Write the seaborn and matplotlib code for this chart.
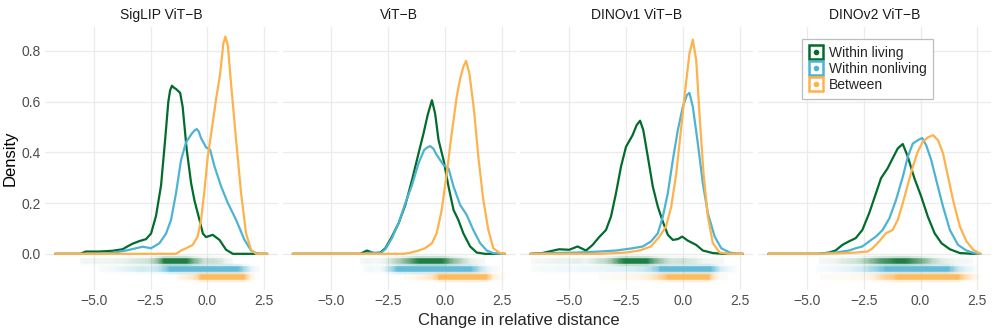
import numpy as np
import pandas as pd
import matplotlib
matplotlib.use("Agg")
import matplotlib.pyplot as plt
import seaborn as sns
from matplotlib.collections import LineCollection
from matplotlib.colors import to_rgba
from matplotlib.lines import Line2D
from matplotlib.legend_handler import HandlerTuple

# Панели и группы
panels = ["SigLIP ViT\u2212B", "ViT\u2212B", "DINOv1 ViT\u2212B", "DINOv2 ViT\u2212B"]
groups = ["Within living", "Within nonliving", "Between"]
colors = ["#006d2c", "#4eb3d3", "#feb24c"]

# Кривые плотности (x, density)
siglip_living_x = [-6.7, -5.6, -5.35, -4.76, -4.17, -3.73, -3.5, -3.29, -3.0, -2.7, -2.48, -2.26, -2.04, -1.86, -1.72, -1.64, -1.56, -1.47, -1.38, -1.2, -1.09, -0.91, -0.72, -0.57, -0.35, -0.2, -0.06, 0.23, 0.53, 0.82, 1.12, 2.63]
siglip_living_y = [0, 0, 0.009, 0.009, 0.012, 0.018, 0.03, 0.04, 0.05, 0.058, 0.08, 0.15, 0.27, 0.45, 0.6, 0.645, 0.663, 0.655, 0.65, 0.635, 0.58, 0.41, 0.28, 0.21, 0.134, 0.08, 0.066, 0.075, 0.055, 0.016, 0, 0]
siglip_nonliving_x = [-6.7, -4.76, -4.17, -3.58, -3.14, -2.85, -2.48, -2.11, -1.82, -1.6, -1.38, -1.16, -0.94, -0.68, -0.56, -0.47, -0.38, -0.28, -0.06, 0.12, 0.31, 0.6, 0.9, 1.26, 1.63, 1.92, 2.14, 2.3, 2.63]
siglip_nonliving_y = [0, 0, 0.004, 0.013, 0.022, 0.028, 0.022, 0.042, 0.08, 0.134, 0.24, 0.37, 0.44, 0.475, 0.487, 0.492, 0.482, 0.456, 0.42, 0.41, 0.345, 0.266, 0.2, 0.134, 0.055, 0.013, 0.003, 0, 0]
siglip_between_x = [-6.7, -1.38, -1.16, -0.94, -0.65, -0.43, -0.28, -0.13, 0.01, 0.23, 0.38, 0.56, 0.7, 0.79, 0.9, 1.04, 1.26, 1.48, 1.7, 1.92, 2.14, 2.63]
siglip_between_y = [0, 0, 0.013, 0.022, 0.035, 0.068, 0.134, 0.25, 0.38, 0.515, 0.61, 0.71, 0.83, 0.857, 0.82, 0.67, 0.45, 0.24, 0.08, 0.016, 0, 0]

vit_living_x = [-6.7, -3.73, -3.44, -3.14, -2.85, -2.63, -2.34, -2.05, -1.75, -1.46, -1.17, -0.95, -0.77, -0.58, -0.44, -0.29, -0.07, 0.15, 0.37, 0.58, 0.8, 1.1, 1.39, 1.75, 2.63]
vit_living_y = [0, 0, 0.013, 0.003, 0.005, 0.022, 0.068, 0.12, 0.193, 0.29, 0.396, 0.475, 0.547, 0.606, 0.553, 0.449, 0.37, 0.265, 0.173, 0.134, 0.081, 0.029, 0.005, 0, 0]
vit_nonliving_x = [-6.7, -3.6, -3.29, -2.85, -2.63, -2.34, -2.05, -1.75, -1.46, -1.17, -0.92, -0.78, -0.66, -0.52, -0.37, -0.07, 0.15, 0.37, 0.66, 0.95, 1.24, 1.54, 1.83, 2.12, 2.4, 2.63]
vit_nonliving_y = [0, 0, 0.005, 0.002, 0.018, 0.062, 0.12, 0.2, 0.27, 0.357, 0.41, 0.42, 0.425, 0.415, 0.39, 0.35, 0.337, 0.265, 0.193, 0.153, 0.094, 0.042, 0.013, 0.003, 0, 0]
vit_between_x = [-6.7, -1.83, -1.54, -1.17, -0.88, -0.58, -0.37, -0.15, 0.07, 0.29, 0.51, 0.66, 0.8, 0.92, 1.07, 1.27, 1.46, 1.68, 1.9, 2.12, 2.41, 2.63]
vit_between_y = [0, 0, 0.004, 0.013, 0.022, 0.042, 0.081, 0.173, 0.317, 0.475, 0.62, 0.69, 0.737, 0.761, 0.71, 0.567, 0.383, 0.212, 0.094, 0.022, 0.003, 0]

dino1_living_x = [-6.7, -6.18, -5.44, -5.0, -4.63, -4.26, -3.97, -3.68, -3.38, -3.16, -2.94, -2.72, -2.5, -2.21, -2.03, -1.88, -1.74, -1.54, -1.32, -1.1, -0.88, -0.66, -0.44, -0.22, -0.03, 0.22, 0.59, 0.88, 1.32, 1.8, 2.63]
dino1_living_y = [0, 0.003, 0.018, 0.016, 0.029, 0.013, 0.035, 0.066, 0.094, 0.147, 0.239, 0.344, 0.422, 0.468, 0.508, 0.525, 0.488, 0.383, 0.265, 0.186, 0.127, 0.075, 0.055, 0.058, 0.068, 0.052, 0.035, 0.013, 0.003, 0, 0]
dino1_nonliving_x = [-6.7, -5.88, -4.7, -3.68, -2.94, -2.21, -1.76, -1.4, -1.1, -0.88, -0.66, -0.44, -0.22, 0.0, 0.18, 0.29, 0.44, 0.66, 0.88, 1.1, 1.4, 1.69, 2.06, 2.4, 2.63]
dino1_nonliving_y = [0, 0.003, 0.005, 0.009, 0.013, 0.022, 0.029, 0.049, 0.081, 0.147, 0.239, 0.37, 0.488, 0.58, 0.626, 0.635, 0.58, 0.435, 0.278, 0.16, 0.068, 0.022, 0.005, 0, 0]
dino1_between_x = [-6.7, -3.68, -2.5, -1.91, -1.4, -1.03, -0.74, -0.51, -0.29, -0.07, 0.12, 0.29, 0.44, 0.59, 0.74, 0.91, 1.1, 1.32, 1.62, 2.0, 2.63]
dino1_between_y = [0, 0, 0.005, 0.013, 0.029, 0.068, 0.108, 0.186, 0.317, 0.5, 0.658, 0.789, 0.845, 0.763, 0.54, 0.317, 0.147, 0.042, 0.005, 0, 0]

dino2_living_x = [-6.7, -4.47, -4.03, -3.74, -3.44, -3.15, -2.85, -2.56, -2.26, -1.96, -1.74, -1.45, -1.23, -1.0, -0.78, -0.56, -0.27, 0.03, 0.32, 0.62, 0.92, 1.29, 1.73, 2.32, 2.63]
dino2_living_y = [0, 0, 0.005, 0.013, 0.035, 0.049, 0.062, 0.094, 0.16, 0.239, 0.298, 0.337, 0.376, 0.416, 0.433, 0.383, 0.298, 0.226, 0.147, 0.081, 0.042, 0.018, 0.003, 0, 0]
dino2_nonliving_x = [-6.7, -4.6, -3.74, -3.15, -2.85, -2.56, -2.26, -1.96, -1.67, -1.37, -1.08, -0.78, -0.56, -0.34, -0.12, 0.07, 0.25, 0.47, 0.69, 0.99, 1.29, 1.65, 2.02, 2.47, 2.63]
dino2_nonliving_y = [0, 0, 0.005, 0.013, 0.022, 0.029, 0.049, 0.068, 0.094, 0.14, 0.212, 0.304, 0.383, 0.435, 0.448, 0.457, 0.428, 0.37, 0.291, 0.186, 0.094, 0.035, 0.013, 0, 0]
dino2_between_x = [-6.7, -4.4, -3.59, -2.85, -2.33, -2.11, -1.82, -1.52, -1.23, -1.0, -0.78, -0.56, -0.34, -0.12, 0.1, 0.32, 0.55, 0.77, 0.99, 1.21, 1.43, 1.73, 2.02, 2.32, 2.63]
dino2_between_y = [0, 0, 0.002, 0.005, 0.009, 0.022, 0.049, 0.081, 0.094, 0.134, 0.2, 0.272, 0.344, 0.403, 0.442, 0.459, 0.468, 0.448, 0.396, 0.304, 0.212, 0.108, 0.049, 0.016, 0]

curves = [
    [(siglip_living_x, siglip_living_y), (siglip_nonliving_x, siglip_nonliving_y), (siglip_between_x, siglip_between_y)],
    [(vit_living_x, vit_living_y), (vit_nonliving_x, vit_nonliving_y), (vit_between_x, vit_between_y)],
    [(dino1_living_x, dino1_living_y), (dino1_nonliving_x, dino1_nonliving_y), (dino1_between_x, dino1_between_y)],
    [(dino2_living_x, dino2_living_y), (dino2_nonliving_x, dino2_nonliving_y), (dino2_between_x, dino2_between_y)],
]

# Полосы точек под нулём: положение по y и насыщенность
strip_y = [-0.03, -0.06, -0.09]
strip_gain = [2.0, 7.0, 6.0]

rows = []
for p, name in enumerate(panels):
    for g, grp in enumerate(groups):
        xs, ys = curves[p][g]
        for x, y in zip(xs, ys):
            rows.append({"panel": name, "group": grp, "x": x, "density": y})
df = pd.DataFrame(rows)

sns.set_theme(style="whitegrid")
plt.rcParams["font.family"] = ["Liberation Sans", "DejaVu Sans"]

fig, axes = plt.subplots(1, 4, figsize=(9.97, 3.32), dpi=100, sharex=True, sharey=True)
fig.subplots_adjust(left=0.045, right=0.994, top=0.919, bottom=0.127, wspace=0.02)


def strip(ax, xs, ys, yrow, color, gain):
    # полоса с прозрачностью по плотности, плавный переход внутри отрезков
    segs, cols_core, cols_halo = [], [], []
    for i in range(len(xs) - 1):
        if max(ys[i], ys[i + 1]) <= 0.001:
            continue
        n = 6
        for k in range(n):
            t0, t1 = k / n, (k + 1) / n
            xa = xs[i] + (xs[i + 1] - xs[i]) * t0
            xb = xs[i] + (xs[i + 1] - xs[i]) * t1
            d = ys[i] + (ys[i + 1] - ys[i]) * (t0 + t1) / 2
            a = min(0.85, 0.03 + gain * d)
            segs.append([(xa, yrow), (xb, yrow)])
            cols_core.append(to_rgba(color, a))
            cols_halo.append(to_rgba(color, a * 0.25))
    ax.add_collection(LineCollection(segs, colors=cols_halo, linewidths=7.5, capstyle="butt"))
    ax.add_collection(LineCollection(segs, colors=cols_core, linewidths=4.0, capstyle="butt"))


for p, (ax, name) in enumerate(zip(axes, panels)):
    sub = df[df["panel"] == name]
    for g, grp in enumerate(groups):
        xs, ys = curves[p][g]
        strip(ax, xs, ys, strip_y[g], colors[g], strip_gain[g])
    sns.lineplot(data=sub, x="x", y="density", hue="group", hue_order=groups,
                 palette=colors, estimator=None, linewidth=1.6, legend=False, ax=ax)
    ax.set_title(name, fontsize=10, color="#1a1a1a", pad=6)
    ax.set_xlim(-7.15, 3.1)
    ax.set_ylim(-0.142, 0.895)
    ax.set_xticks([-5.0, -2.5, 0.0, 2.5])
    ax.set_xticklabels(["\u22125.0", "\u22122.5", "0.0", "2.5"])
    ax.set_yticks([0.0, 0.2, 0.4, 0.6, 0.8])
    ax.set_yticklabels(["0.0", "0.2", "0.4", "0.6", "0.8"])
    ax.set_xlabel("")
    ax.set_ylabel("")
    ax.tick_params(length=0, labelsize=10, labelcolor="#4d4d4d", pad=3)
    ax.grid(True, color="#ebebeb", linewidth=0.9)
    for s in ax.spines.values():
        s.set_visible(False)

axes[0].set_ylabel("Density", fontsize=12, color="black", labelpad=3)
fig.text(0.52, 0.035, "Change in relative distance", ha="center", va="center", fontsize=12)

handles = [(Line2D([], [], marker="s", ms=10, mfc="white", mec=c, mew=1.8, ls=""),
            Line2D([], [], marker="o", ms=3, color=c, ls="")) for c in colors]
leg = axes[3].legend(handles, groups, handler_map={tuple: HandlerTuple(ndivide=1, pad=0)},
                     loc="upper left", bbox_to_anchor=(0.19, 0.955), borderaxespad=0,
                     fontsize=10, frameon=True, fancybox=False, framealpha=1,
                     edgecolor="#bdbdbd", handlelength=1.0, handletextpad=0.4,
                     labelspacing=0.15, borderpad=0.5)
leg.get_frame().set_linewidth(0.9)

plt.savefig("out.png", dpi=100)
